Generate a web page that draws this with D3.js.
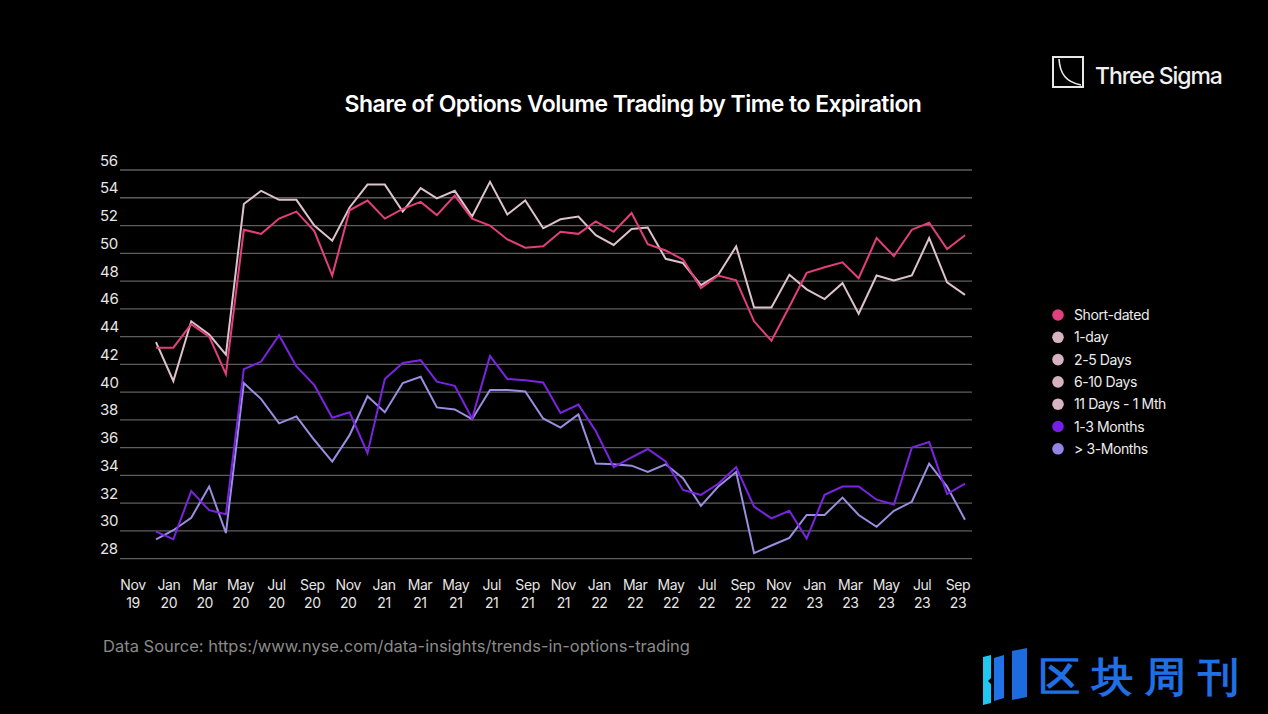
<!DOCTYPE html>
<html><head><meta charset="utf-8">
<script src="https://cdn.jsdelivr.net/npm/d3@7"></script>
<style>
html,body{margin:0;padding:0;background:#000;}
svg{display:block;}
text{font-family:Inter,"Noto Sans",sans-serif;}
</style></head>
<body>
<svg id="chart" width="1268" height="714"></svg>
<script>
// ---------- data ----------
const seriesNames = ["Short-dated","1-day","2-5 Days","6-10 Days","11 Days - 1 Mth","1-3 Months","> 3-Months"];
const seriesColors = ["#e33f7e","#d8b3c3","#d6b1c1","#d6b1c1","#d8b3c3","#7420e6","#9485e3"];
const lineColors = {"Short-dated":"#e23f7c","1-day":"#dcc2cb","1-3 Months":"#7a24e2","> 3-Months":"#9a8ee0"};

const startMonth = new Date(2019,10,1);  // Nov 2019
const endMonth = new Date(2023,8,1);     // Sep 2023
const months = d3.timeMonth.range(startMonth, new Date(2023,9,1));

const shortDated = [43.2,43.2,44.9,44.0,41.3,51.7,51.4,52.5,53.0,51.6,48.4,53.1,53.8,52.5,53.2,53.7,52.75,54.15,52.5,52.0,51.0,50.4,50.5,51.55,51.4,52.3,51.55,52.9,50.65,50.2,49.55,47.5,48.4,48.05,45.1,43.7,46.15,48.6,49.0,49.35,48.2,51.1,49.8,51.7,52.2,50.3,51.3];
const oneDay = [43.6,40.8,45.1,44.15,42.7,53.55,54.5,53.85,53.85,52.0,50.9,53.3,54.95,54.95,53.0,54.7,53.95,54.5,52.65,55.15,52.8,53.8,51.8,52.45,52.65,51.3,50.6,51.75,51.85,49.6,49.3,47.7,48.45,50.5,46.1,46.1,48.45,47.4,46.7,47.85,45.65,48.4,48.05,48.4,51.1,47.9,47.0];
const oneToThreeMonths = [29.95,29.4,32.87,31.5,31.2,41.65,42.2,44.1,41.85,40.5,38.15,38.55,35.6,40.95,42.1,42.3,40.75,40.45,38.1,42.6,40.95,40.85,40.7,38.5,39.1,37.2,34.6,35.3,35.9,35.0,32.95,32.6,33.4,34.6,31.75,30.9,31.45,29.45,32.6,33.2,33.2,32.25,31.9,36.0,36.4,32.65,33.4];
const overThreeMonths = [29.4,30.05,30.95,33.2,29.85,40.65,39.5,37.75,38.25,36.55,35.0,36.9,39.7,38.55,40.65,41.1,38.9,38.75,38.05,40.15,40.15,40.05,38.1,37.45,38.4,34.85,34.8,34.7,34.25,34.8,33.8,31.8,33.2,34.25,28.4,28.95,29.5,31.15,31.15,32.4,31.15,30.3,31.45,32.1,34.85,33.2,30.8];

const xTickMonths = ["Nov","Jan","Mar","May","Jul","Sep","Nov","Jan","Mar","May","Jul","Sep","Nov","Jan","Mar","May","Jul","Sep","Nov","Jan","Mar","May","Jul","Sep"];
const xTickYears = ["19","20","20","20","20","20","20","21","21","21","21","21","21","22","22","22","22","22","22","23","23","23","23","23"];
const yTicks = [28,30,32,34,36,38,40,42,44,46,48,50,52,54,56];

const title = "Share of Options Volume Trading by Time to Expiration";
const sourceText = "Data Source: https:/www.nyse.com/data-insights/trends-in-options-trading";

// ---------- drawing ----------
const svg = d3.select("#chart");
svg.append("rect").attr("width",1268).attr("height",714).attr("fill","#000");

const x = d3.scaleTime().domain([startMonth, endMonth]).range([156, 965]);
const y = d3.scaleLinear().domain([28,56]).range([558.7,170]);
const xLab = d3.scalePoint().domain(d3.range(xTickMonths.length)).range([133, 958]);

// gridlines
svg.append("g").selectAll("line").data(yTicks).join("line")
  .attr("x1",120).attr("x2",972)
  .attr("y1",d=>y(d)).attr("y2",d=>y(d))
  .attr("stroke","#5e5e5e").attr("stroke-width",1.3);

// y tick labels
svg.append("g").selectAll("text").data(yTicks).join("text")
  .attr("x",100).attr("y",d=>y(d)-4.5)
  .attr("fill","#e6e6e6").attr("font-size",15).attr("letter-spacing",-0.3)
  .text(d=>d);

// x tick labels
const xt = svg.append("g").selectAll("text").data(xTickMonths).join("text")
  .attr("x",(d,i)=>xLab(i)).attr("y",590)
  .attr("text-anchor","middle").attr("fill","#e6e6e6").attr("font-size",14).attr("letter-spacing",-0.4);
xt.append("tspan").attr("x",(d,i)=>xLab(i)).attr("dy",0).text(d=>d);
xt.append("tspan").attr("x",(d,i)=>xLab(i)).attr("dy",18).text((d,i)=>xTickYears[i]);

// lines
const lineSeries = [
  {name:"1-day", values:oneDay},
  {name:"Short-dated", values:shortDated},
  {name:"> 3-Months", values:overThreeMonths},
  {name:"1-3 Months", values:oneToThreeMonths}
];
const line = d3.line().x((d,i)=>x(months[i])).y(d=>y(d));
svg.append("g").selectAll("path").data(lineSeries).join("path")
  .attr("d",d=>line(d.values))
  .attr("fill","none").attr("stroke",d=>lineColors[d.name])
  .attr("stroke-width",2).attr("stroke-linejoin","miter");

// title
svg.append("text").attr("x",633).attr("y",112).attr("text-anchor","middle")
  .attr("fill","#fff").attr("font-size",23).attr("font-weight",600).attr("letter-spacing",-0.55)
  .text(title);

// legend
const leg = svg.append("g").selectAll("g").data(seriesNames).join("g")
  .attr("transform",(d,i)=>`translate(1058,${315+i*22.3})`);
leg.append("circle").attr("r",5.8).attr("fill",(d,i)=>seriesColors[i]);
leg.append("text").attr("x",16).attr("y",5).attr("fill","#ececec").attr("font-size",14).attr("letter-spacing",-0.4).text(d=>d);

// source
svg.append("text").attr("x",103).attr("y",652).attr("fill","#8a8a8a").attr("font-size",16.5).attr("letter-spacing",0).text(sourceText);

// Three Sigma logo
const logo = svg.append("g");
logo.append("rect").attr("x",1053).attr("y",57).attr("width",30).attr("height",30)
  .attr("fill","none").attr("stroke","#e8e8e8").attr("stroke-width",2);
logo.append("path").attr("d","M1059,59 C1060,74 1066,82 1081,85")
  .attr("fill","none").attr("stroke","#e8e8e8").attr("stroke-width",1.6);
logo.append("text").attr("x",1095).attr("y",83.5).attr("fill","#f0f0f0").attr("font-size",23).attr("font-weight",500).attr("letter-spacing",-1.1).text("Three Sigma");

// watermark
const wm = svg.append("g");
wm.append("path").attr("d","M983,657 L991,655 L991,678 L988,681 L991,684 L991,703 L983,705 Z").attr("fill","#1fc8f2");
wm.append("path").attr("d","M994,658 L1004,655 L1004,698 L994,701 Z").attr("fill","#1f73e6");
wm.append("path").attr("d","M1012,651 L1027,648 L1027,697 L1012,700 Z").attr("fill","#1e6be0");
wm.append("text").attr("x",1039).attr("y",691).attr("fill","#1f6fe5").attr("font-size",41).attr("font-weight",600)
  .attr("font-family","'Noto Sans CJK SC'").attr("letter-spacing",12).text("区块周刊");
</script>
</body></html>
